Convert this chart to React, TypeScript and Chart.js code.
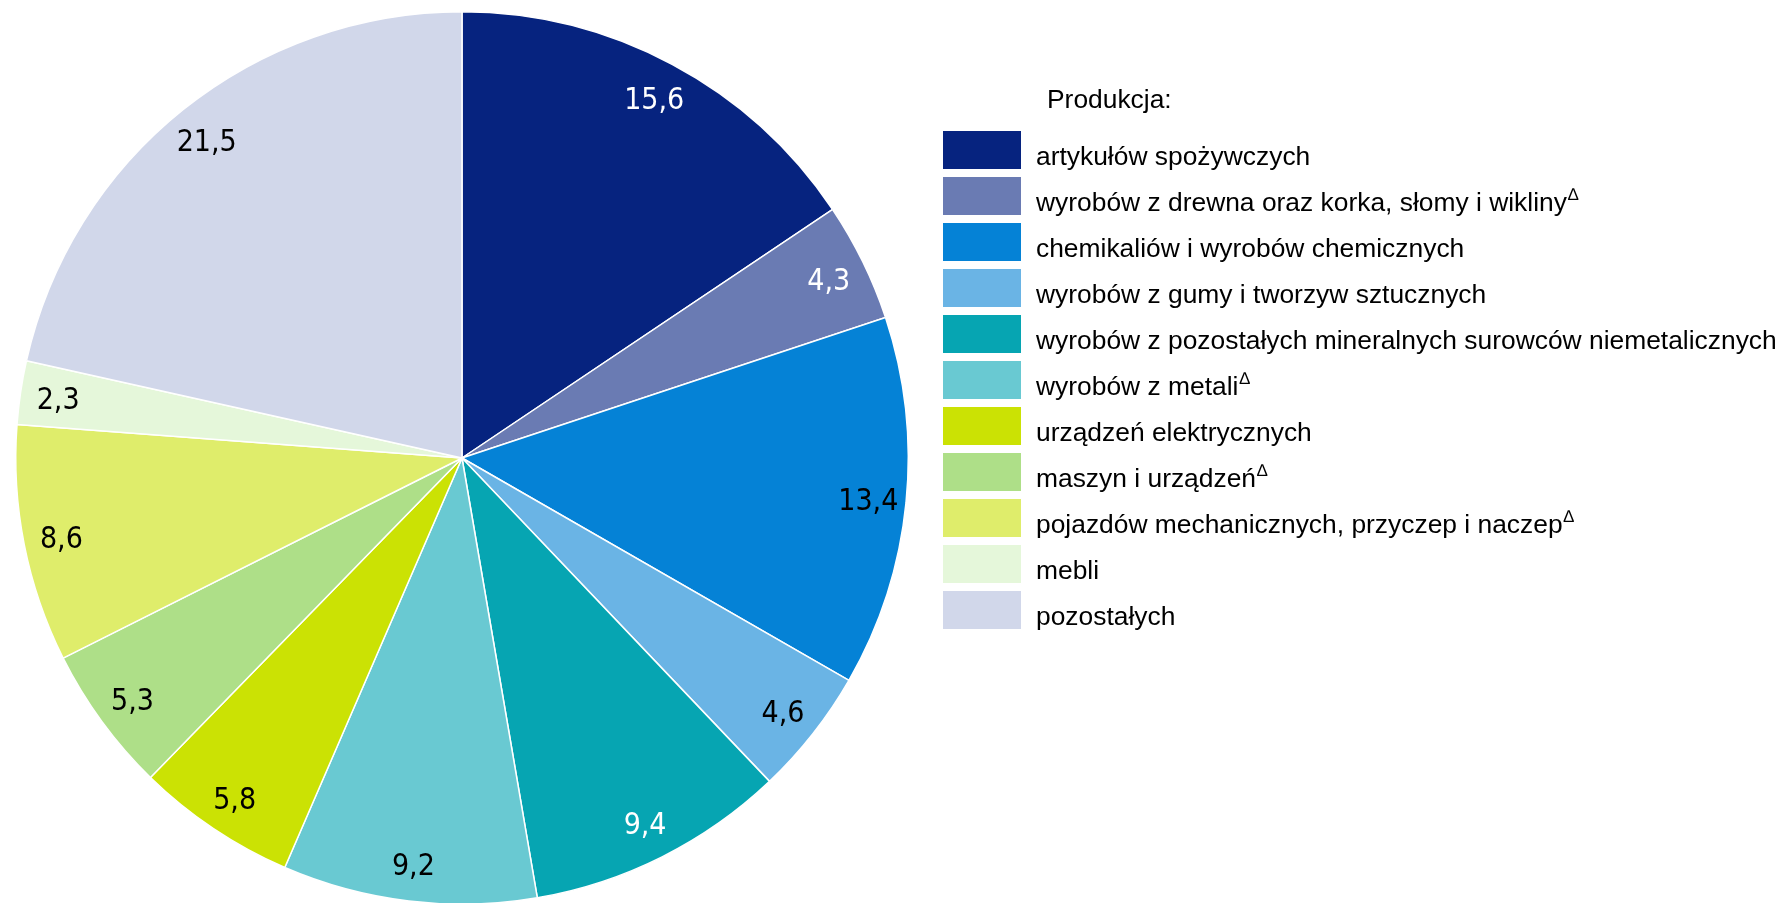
import React, { useEffect, useRef } from "react";
import { Chart, registerables } from "chart.js";

Chart.register(...registerables);

const categories = [
  "artykułów spożywczych",
  "wyrobów z drewna oraz korka, słomy i wikliny∆",
  "chemikaliów i wyrobów chemicznych",
  "wyrobów z gumy i tworzyw sztucznych",
  "wyrobów z pozostałych mineralnych surowców niemetalicznych",
  "wyrobów z metali∆",
  "urządzeń elektrycznych",
  "maszyn i urządzeń∆",
  "pojazdów mechanicznych, przyczep i naczep∆",
  "mebli",
  "pozostałych",
];

const values = [15.6, 4.3, 13.4, 4.6, 9.4, 9.2, 5.8, 5.3, 8.6, 2.3, 21.5];

const colors = [
  "#06237f",
  "#6a7bb3",
  "#0582d6",
  "#6ab4e5",
  "#06a5b2",
  "#69c9d2",
  "#cbe204",
  "#aedf88",
  "#dfed6b",
  "#e5f7da",
  "#d1d7ea",
];

const labelColors = [
  "#ffffff",
  "#ffffff",
  "#000000",
  "#000000",
  "#ffffff",
  "#000000",
  "#000000",
  "#000000",
  "#000000",
  "#000000",
  "#000000",
];

const legendTitle = "Produkcja:";

const fmt = (v: number) => v.toFixed(1).replace(".", ",");

const valueLabelPlugin = {
  id: "valueLabels",
  afterDatasetsDraw(chart: any) {
    const ctx = chart.ctx;
    const meta = chart.getDatasetMeta(0);
    ctx.save();
    const size = 30;
    ctx.font = `${size}px "Liberation Sans Narrow", "DejaVu Sans Condensed", "Arial Narrow", sans-serif`;
    ctx.textAlign = "center";
    ctx.textBaseline = "alphabetic";
    meta.data.forEach((arc: any, i: number) => {
      const p = arc.getProps(["x", "y", "startAngle", "endAngle", "outerRadius"], true);
      const mid = (p.startAngle + p.endAngle) / 2;
      const r = p.outerRadius * 0.915;
      const x = p.x + Math.cos(mid) * r;
      const y = p.y + Math.sin(mid) * r;
      ctx.fillStyle = labelColors[i];
      ctx.fillText(fmt(values[i]), x, y + size * 0.38);
    });
    ctx.restore();
  },
};

const legendPlugin = {
  id: "customLegend",
  afterDraw(chart: any) {
    const ctx = chart.ctx;
    ctx.save();
    const fontSize = 26.4;
    const font = `${fontSize}px "Liberation Sans", Arial, sans-serif`;
    const supFont = `17px "Liberation Sans", Arial, sans-serif`;
    ctx.textAlign = "left";
    ctx.textBaseline = "alphabetic";
    ctx.fillStyle = "#000000";
    ctx.font = font;
    ctx.fillText(legendTitle, 1047, 108);
    const boxX = 943;
    const boxW = 78;
    const boxH = 38;
    const textX = 1036;
    categories.forEach((label, i) => {
      const cy = 150 + 46 * i;
      ctx.fillStyle = colors[i];
      ctx.fillRect(boxX, cy - boxH / 2, boxW, boxH);
      ctx.fillStyle = "#000000";
      let main = label;
      let sup = "";
      if (label.endsWith("∆")) {
        main = label.slice(0, -1);
        sup = "∆";
      }
      ctx.font = font;
      ctx.fillText(main, textX, cy + 15);
      if (sup) {
        const w = ctx.measureText(main).width;
        ctx.font = supFont;
        ctx.fillText(sup, textX + w + 1, cy + 4);
      }
    });
    ctx.restore();
  },
};

export default function App() {
  const ref = useRef<HTMLCanvasElement | null>(null);
  useEffect(() => {
    if (!ref.current) return;
    const chart = new Chart(ref.current, {
      type: "pie",
      data: {
        labels: categories,
        datasets: [
          {
            data: values,
            backgroundColor: colors,
            borderColor: "#ffffff",
            borderWidth: 1.5,
            hoverOffset: 0,
          },
        ],
      },
      options: {
        responsive: false,
        animation: false,
        devicePixelRatio: 1,
        layout: {
          padding: { left: 15, top: 11, right: 874, bottom: 15 },
        },
        plugins: {
          legend: { display: false },
          tooltip: { enabled: false },
        },
      },
      plugins: [valueLabelPlugin, legendPlugin],
    });
    return () => chart.destroy();
  }, []);
  return (
    <div
      style={{
        position: "fixed",
        left: 0,
        top: 0,
        width: 1783,
        height: 903,
        overflow: "hidden",
        background: "#ffffff",
      }}
    >
      <canvas ref={ref} width={1783} height={920} style={{ width: 1783, height: 920, display: "block" }} />
    </div>
  );
}
